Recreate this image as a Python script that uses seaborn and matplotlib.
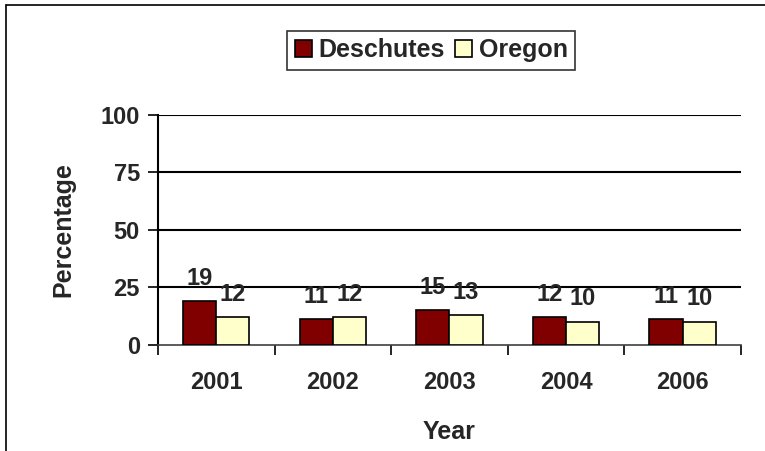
import pandas as pd
import matplotlib.pyplot as plt
import seaborn as sns
from matplotlib.lines import Line2D

sns.set_style("white")
plt.rcParams['font.family'] = ['Liberation Sans', 'DejaVu Sans']
plt.rcParams['font.weight'] = 'bold'

years = ["2001", "2002", "2003", "2004", "2006"]
deschutes = [19, 11, 15, 12, 11]
oregon = [12, 12, 13, 10, 10]
series_names = ["Deschutes", "Oregon"]
colors = ["#800000", "#FFFFCC"]


def build_frame():
    rows = []
    for y, d, o in zip(years, deschutes, oregon):
        rows.append({"Year": y, "Area": series_names[0], "Percentage": d})
        rows.append({"Year": y, "Area": series_names[1], "Percentage": o})
    return pd.DataFrame(rows)


def plot_chart(df):
    fig = plt.figure(figsize=(7.65, 4.51), dpi=100)
    ax = fig.add_axes([0.2065, 0.236, 0.762, 0.509])

    sns.barplot(data=df, x="Year", y="Percentage", hue="Area", order=years,
                hue_order=series_names, palette=colors, width=0.57,
                edgecolor="black", linewidth=1.2, saturation=1, ax=ax,
                legend=False, zorder=3)

    ax.set_ylim(0, 100)
    ax.set_xlim(-0.5, len(years) - 0.5)
    ax.set_yticks([0, 25, 50, 75, 100])
    for v in [25, 50, 75, 100]:
        ax.axhline(v, color="black", lw=1.5, zorder=1)

    for spine in ["top", "right"]:
        ax.spines[spine].set_visible(False)
    ax.spines["left"].set_color("black")
    ax.spines["left"].set_linewidth(1.5)
    ax.spines["bottom"].set_color("#404040")
    ax.spines["bottom"].set_linewidth(1.2)

    ax.tick_params(axis="y", which="major", direction="out", length=7, width=1.2,
                   color="black", labelsize=17, pad=6, left=True)
    ax.tick_params(axis="x", which="major", length=0, labelsize=17, pad=19)
    ax.set_xticks([i - 0.5 for i in range(len(years) + 1)], minor=True)
    ax.tick_params(axis="x", which="minor", direction="out", length=7, width=1.2,
                   color="black", bottom=True)

    for c in ax.containers:
        ax.bar_label(c, fmt="%d", padding=8, fontsize=17, fontweight="bold")

    ax.set_xlabel("Year", fontsize=18, fontweight="bold", labelpad=19)
    ax.set_ylabel("Percentage", fontsize=18, fontweight="bold", labelpad=18)

    handles = [plt.Rectangle((0, 0), 1, 1, facecolor=col, edgecolor="black", lw=1.2)
               for col in colors]
    leg = fig.legend(handles, series_names, loc="center", bbox_to_anchor=(0.5635, 0.889),
                     ncol=2, fontsize=18, frameon=True, fancybox=False,
                     handlelength=0.7, handleheight=0.7, handletextpad=0.25,
                     columnspacing=0.4, borderpad=0.3)
    leg.get_frame().set_edgecolor("black")
    leg.get_frame().set_linewidth(1.2)

    fig.add_artist(Line2D([0.008, 0.008], [0, 0.989], color="black", lw=1.2))
    fig.add_artist(Line2D([0.008, 1.0], [0.989, 0.989], color="black", lw=1.2))

    fig.savefig("out.png", dpi=100)
    plt.close(fig)


if __name__ == "__main__":
    plot_chart(build_frame())
